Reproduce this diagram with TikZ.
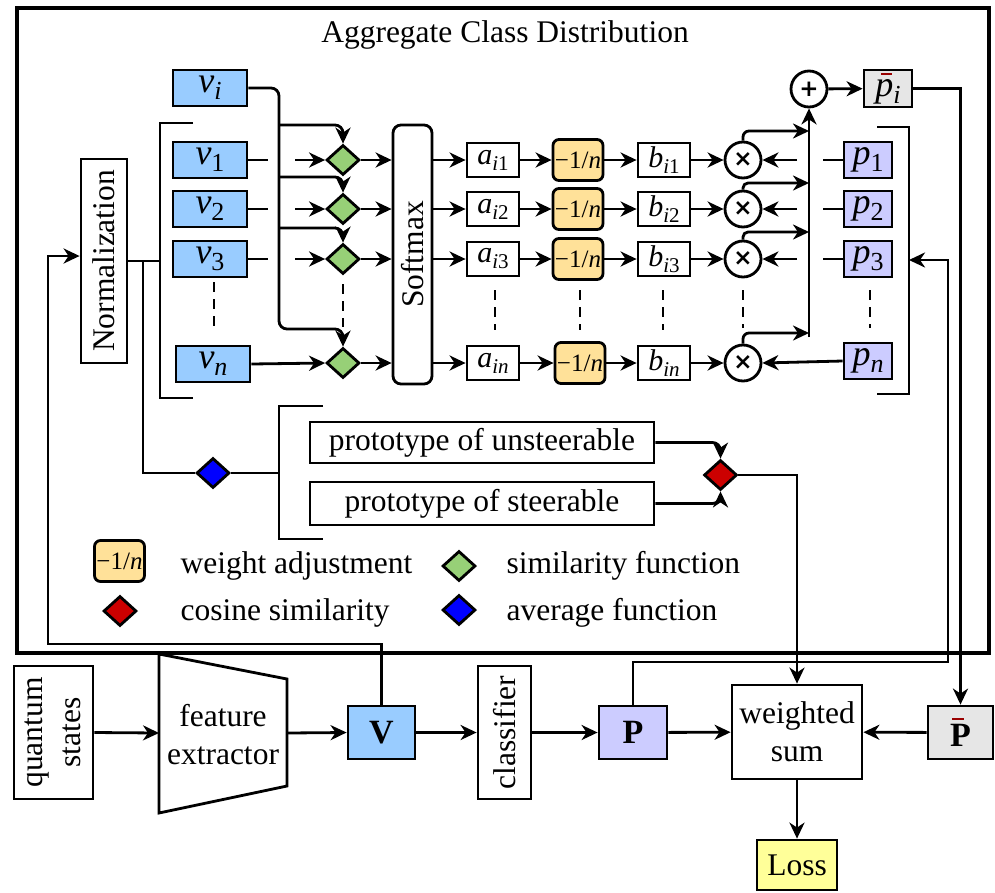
\documentclass[tikz,border=0pt]{standalone}
\usepackage{fontspec}
\setmainfont{Liberation Serif}
\newfontfamily\symfont{DejaVu Sans}
\usetikzlibrary{shapes.geometric,arrows.meta,calc}
\definecolor{vblue}{HTML}{99CCFF}
\definecolor{sgreen}{HTML}{97D077}
\definecolor{wyellow}{HTML}{FFE199}
\definecolor{ppurple}{HTML}{CCCCFF}
\definecolor{pgray}{HTML}{E6E6E6}
\definecolor{ablue}{HTML}{0000FF}
\definecolor{cred}{HTML}{CC0000}
\definecolor{lyellow}{HTML}{FFFF99}
\definecolor{barred}{HTML}{990000}
\newcommand\mfont[2]{\fontsize{#1}{#2}\selectfont}
\newcommand\VL[2]{{\mfont{36}{36}\itshape #1}\raisebox{-7pt}{\mfont{26}{26}#2}}
\newcommand\AL[2]{{\mfont{30}{30}\itshape #1}\raisebox{-6pt}{\mfont{21}{21}#2}}
\newcommand\WL{{\mfont{25}{25}−1/\textit{n}}}
\newcommand\barp{\makebox[0pt][l]{\hspace{0.16em}\color{barred}\rule[0.58em]{0.3em}{0.06em}}p}
\newcommand\barP{\makebox[0pt][l]{\hspace{0.06em}\color{barred}\rule[0.79em]{0.36em}{0.05em}}\textbf{P}}
\begin{document}
\begin{tikzpicture}[x=1pt,y=-1pt,
  font=\mfont{31.5}{38},
  line/.style={line width=2.8pt},
  arr/.style={line width=2.8pt,-{Stealth[length=16pt,width=15pt,inset=5pt]}},
  dsh/.style={line width=2.8pt,dash pattern=on 10pt off 7pt},
  box/.style={draw,line width=2.8pt,inner sep=0pt,fill=white},
  vbox/.style={box,fill=vblue,minimum width=74pt,minimum height=36pt},
  abox/.style={box,minimum width=52pt,minimum height=34pt},
  wbox/.style={box,fill=wyellow,rounded corners=6pt,minimum width=50pt,minimum height=41pt},
  pbox/.style={box,fill=ppurple,minimum width=48pt,minimum height=36pt},
  dia/.style={diamond,draw,line width=2.8pt,inner sep=0pt,minimum width=33pt,minimum height=30pt},
  gdia/.style={dia,fill=sgreen},
  rdia/.style={dia,fill=cred},
  bdia/.style={dia,fill=ablue},
  circ/.style={circle,draw,line width=2.8pt,inner sep=0pt,minimum size=36pt,fill=white,font=\symfont\bfseries\mfont{23}{23}},
  ]
\useasboundingbox (0,0) rectangle (995,892);
% outer frame
\draw[line width=3.2pt] (17,8) rectangle (989,653);
\node[anchor=base] (title) at (505,42) {Aggregate Class Distribution};

% v column
\node[vbox] (vi) at (210,88) {\VL{v}{\itshape i}};
\node[vbox] (v1) at (210,160) {\VL{v}{1}};
\node[vbox] (v2) at (210,209) {\VL{v}{2}};
\node[vbox] (v3) at (210,259) {\VL{v}{3}};
\node[vbox] (vn) at (213,364) {\VL{v}{\itshape n}};
\draw[dsh] (214,282) -- (214,330);

% normalization
\node[box,minimum width=46pt,minimum height=204pt] (norm) at (104,261) {\rotatebox{90}{Normalization}};
\coordinate (lbr) at (160,261);
\coordinate (nb) at (143,261);
\draw[line] (norm.east) -- (lbr);
\draw[line] (193,123) -- (160,123) -- (160,398) -- (193,398);

% diamonds
\node[gdia] (d1) at (343,160) {};
\node[gdia] (d2) at (343,209) {};
\node[gdia] (d3) at (343,259) {};
\node[gdia] (dn) at (343,363) {};
\draw[dsh] (343,284) -- (343,327);

% vi distribution
\coordinate (vjoin) at (279,329);
\coordinate (b1) at (279,125);
\coordinate (b2) at (279,177);
\coordinate (b3) at (279,228);
\draw[arr,rounded corners=8pt] (vi.east) -| (vjoin) -| (dn.north);
\draw[arr,rounded corners=8pt] (b1) -| (d1.north);
\draw[arr,rounded corners=8pt] (b2) -| (d2.north);
\draw[arr,rounded corners=8pt] (b3) -| (d3.north);
\foreach \k in {1,2,3}{
  \draw[line] (v\k.east) -- ([xshift=-11pt]v\k.east -| vjoin);
  \draw[arr] ([xshift=16pt]v\k.east -| vjoin) -- (d\k.west);
}
\draw[arr] (vn.east) -- (dn.west);

% softmax
\node[box,rounded corners=8pt,minimum width=39pt,minimum height=259pt] (sm) at (412.5,254.5) {\rotatebox{90}{Softmax}};

% a, w, b, m, p
\node[abox] (a1) at (493,160) {\AL{a}{\itshape i\upshape 1}};
\node[abox] (a2) at (493,209) {\AL{a}{\itshape i\upshape 2}};
\node[abox] (a3) at (493,259) {\AL{a}{\itshape i\upshape 3}};
\node[abox] (an) at (493,363) {\AL{a}{\itshape in}};
\node[wbox] (w1) at (578,160) {\WL};
\node[wbox] (w2) at (578,209) {\WL};
\node[wbox] (w3) at (578,259) {\WL};
\node[wbox] (wn) at (580,363) {\WL};
\node[abox] (b1n) at (664,160) {\AL{b}{\itshape i\upshape 1}};
\node[abox] (b2n) at (664,209) {\AL{b}{\itshape i\upshape 2}};
\node[abox] (b3n) at (664,259) {\AL{b}{\itshape i\upshape 3}};
\node[abox] (bnn) at (664,363) {\AL{b}{\itshape in}};
\node[circ] (m1) at (743,160) {×};
\node[circ] (m2) at (743,209) {×};
\node[circ] (m3) at (743,259) {×};
\node[circ] (mn) at (743,363) {×};
\node[pbox] (p1) at (868,160) {\VL{p}{1}};
\node[pbox] (p2) at (868,209) {\VL{p}{2}};
\node[pbox] (p3) at (868,259) {\VL{p}{3}};
\node[pbox] (pn) at (868,361) {\VL{p}{\itshape n}};
\draw[dsh] (495,290) -- (495,330);
\draw[dsh] (580,290) -- (580,330);
\draw[dsh] (663,290) -- (663,330);
\draw[dsh] (743,290) -- (743,328);
\draw[dsh] (870,290) -- (870,328);

\node[circ] (plus) at (809,89) {+};
\node[box,fill=pgray,minimum width=48pt,minimum height=37pt] (pbari) at (888,88.5) {\VL{\barp}{\itshape i}};
\coordinate (sumbot) at (809,337);
\coordinate (s1) at (809,131);
\coordinate (s2) at (809,183);
\coordinate (s3) at (809,232);
\coordinate (s4) at (809,333);

\foreach \k/\b in {1/b1n,2/b2n,3/b3n,n/bnn}{
  \draw[arr] (d\k.east) -- (d\k.east -| sm.west);
  \draw[arr] (a\k.west -| sm.east) -- (a\k.west);
  \draw[arr] (a\k) -- (w\k);
  \draw[arr] (w\k) -- (\b);
  \draw[arr] (\b) -- (m\k);
}
\foreach \k in {1,2,3}{
  \draw[line] (p\k.west) -- ([xshift=14pt]p\k.west -| sumbot);
  \draw[arr] ([xshift=-12pt]p\k.west -| sumbot) -- (m\k.east);
}
\draw[arr] (pn.west) -- (mn.east);
\draw[arr,rounded corners=6pt] (m1.north) |- (s1);
\draw[arr,rounded corners=5pt] (m2.north) |- (s2);
\draw[arr,rounded corners=5pt] (m3.north) |- (s3);
\draw[arr,rounded corners=6pt] (mn.north) |- (s4);
\draw[arr] (sumbot) -- (plus.south);
\draw[arr] (plus) -- (pbari);
\draw[line] (877,127) -- (909,127) -- (909,394) -- (877,394);

% average / cosine part
\node[bdia] (bd) at (213,473) {};
\coordinate (lbr2) at (279,473);
\draw[line] (nb) |- (bd.west);
\draw[line] (bd.east) -- (lbr2);
\draw[line] (323,406) -- (279,406) -- (279,539) -- (323,539);
\node[box,minimum width=344pt,minimum height=41pt] (pu) at (482,442.5) {prototype of unsteerable};
\node[box,minimum width=344pt,minimum height=43pt] (ps) at (482,503.5) {prototype of steerable};
\node[rdia] (rd) at (720.5,475) {};
\draw[arr,rounded corners=8pt] (pu.east) -| (rd.north);
\draw[arr,rounded corners=8pt] (ps.east) -| (rd.south);

% legend
\node[wbox] (lw) at (119.5,561) {\WL};
\node[anchor=base west] (lwt) at (177,573) {weight adjustment};
\node[gdia] (lg) at (459,566) {};
\node[anchor=base west] (lgt) at (503,573) {similarity function};
\node[rdia] (lr) at (120,611) {};
\node[anchor=base west] (lrt) at (177,620) {cosine similarity};
\node[bdia] (lb) at (459,610) {};
\node[anchor=base west] (lbt) at (503,620) {average function};

% bottom row
\node[box,minimum width=79pt,minimum height=133pt] (qs) at (53.5,732.5) {\rotatebox{90}{\begin{tabular}{@{}c@{}}quantum\\states\end{tabular}}};
\draw[line] (159,654) -- (287,679) -- (287,786) -- (159,813) -- cycle;
\node[align=center] (fe) at (223,735) {feature\\extractor};
\coordinate (feL) at (159,733);
\coordinate (feR) at (287,733);
\node[box,fill=vblue,minimum width=67pt,minimum height=53pt,font=\mfont{34}{34}\bfseries] (V) at (381.5,732.5) {V};
\node[box,minimum width=53pt,minimum height=133pt] (cls) at (504.5,732.5) {\rotatebox{90}{classifier}};
\node[box,fill=ppurple,minimum width=68pt,minimum height=53pt,font=\mfont{34}{34}\bfseries] (P) at (633,732.5) {P};
\node[box,minimum width=130pt,minimum height=94pt,align=center] (ws) at (797,732) {weighted\\sum};
\node[box,fill=pgray,minimum width=65pt,minimum height=53pt,font=\mfont{34}{34}] (Pbar) at (960.5,732.5) {\barP};
\node[box,fill=lyellow,minimum width=80pt,minimum height=50pt] (loss) at (797,865) {Loss};

\draw[arr] (qs.east) -- (feL);
\draw[arr] (feR) -- (V.west);
\draw[arr] (V) -- (cls);
\draw[arr] (cls) -- (P);
\draw[arr] (P) -- (ws);
\draw[arr] (Pbar) -- (ws);
\draw[arr] (ws) -- (loss);
\draw[arr] (rd.east) -| (ws.north);
\draw[arr] (pbari.east) -| (Pbar.north);
\coordinate (pc1) at (948,662);
\coordinate (pin) at (909,260);
\draw[arr] (P.north) |- (pc1) |- (pin);
\coordinate (vc1) at (48,644);
\draw[arr] (V.north) |- (vc1) |- ([yshift=5pt]norm.west);
\end{tikzpicture}
\end{document}
